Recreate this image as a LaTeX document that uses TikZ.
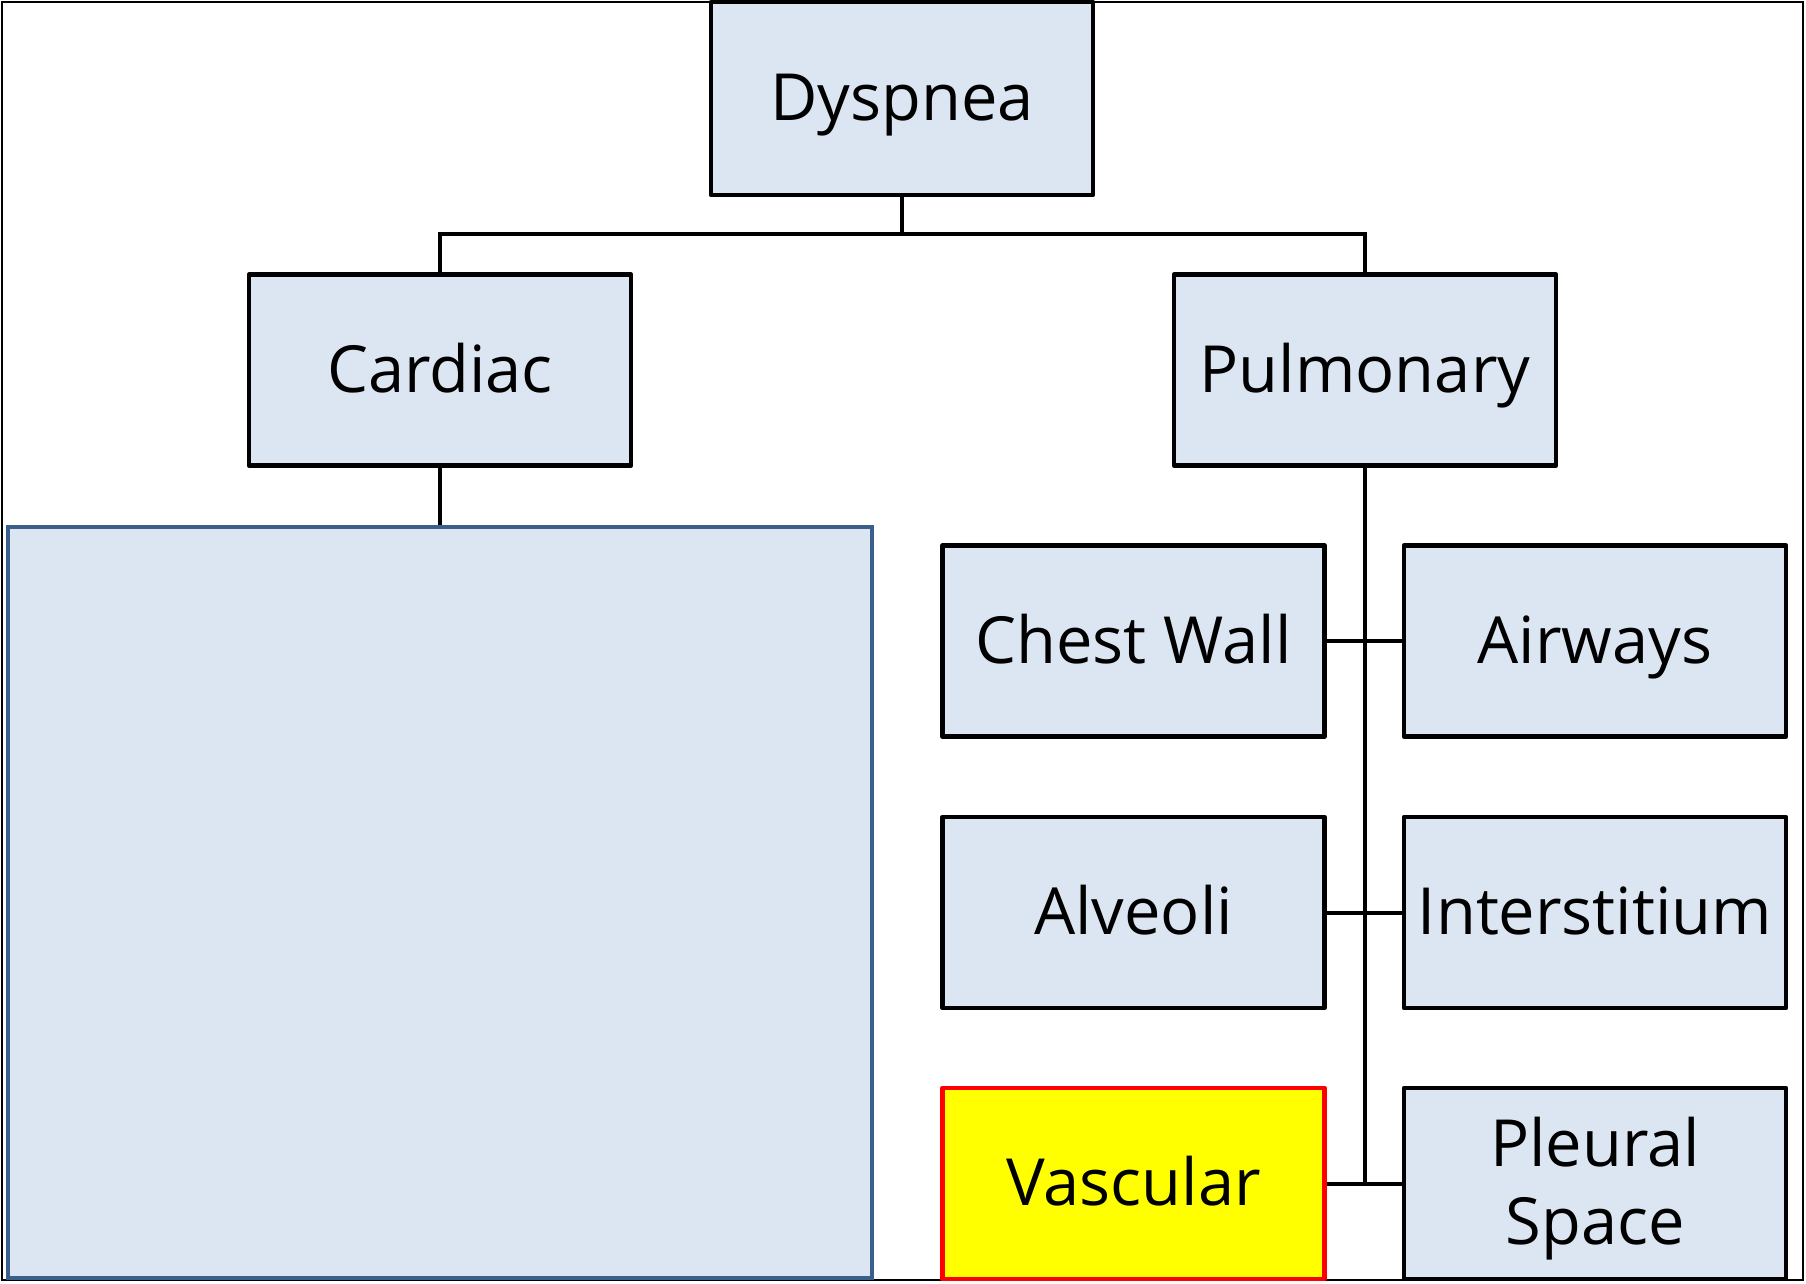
\documentclass[tikz,border=0pt]{standalone}
\usepackage{fontspec}
\setmainfont{Open Sans}
\definecolor{boxfill}{HTML}{DCE6F2}
\definecolor{bigline}{HTML}{3A5F8B}
\definecolor{hotfill}{HTML}{FFFF00}
\definecolor{hotline}{HTML}{FF0000}
\begin{document}
\begin{tikzpicture}[x=1pt,y=-1pt,
  catbox/.style={rectangle, draw=black, fill=boxfill, line width=4.5pt, line join=round,
    inner sep=0pt, minimum width=382pt, minimum height=191pt,
    text height=44pt, text depth=0pt,
    font=\fontsize{65}{78}\selectfont},
  twoline/.style={text height=44pt, text depth=78pt},
  hotbox/.style={catbox, fill=hotfill, draw=hotline},
  bigbox/.style={rectangle, draw=bigline, fill=boxfill, line width=4pt, inner sep=0pt,
    minimum width=864pt, minimum height=751pt},
  link/.style={draw=black, line width=4pt}]
\useasboundingbox (0,0) rectangle (1806,1283);
\draw[line width=1.5pt] (2,2) rectangle (1803,1280);
\node[catbox, minimum height=193pt] (dys) at (902,98.5) {Dyspnea};
\node[catbox] (card) at (440,370) {Cardiac};
\node[catbox] (pulm) at (1365,370) {Pulmonary};
\node[bigbox] (big) at (440,902.5) {};
\node[catbox] (chest) at (1133.5,641) {Chest Wall};
\node[catbox] (airw) at (1595,641) {Airways};
\node[catbox] (alv) at (1133.5,912.5) {Alveoli};
\node[catbox] (inter) at (1595,912.5) {Interstitium};
\node[hotbox] (vasc) at (1133.5,1183.5) {Vascular};
\node[catbox, twoline] (pleu) at (1595,1183.5) {\parbox[t]{370pt}{\centering Pleural\\Space}};
\coordinate (j) at (902,234);
\coordinate (tb) at (1365,1183.5);
\path[link] (dys.south) -- (j);
\path[link] (card.north) |- (j) -| (pulm.north);
\path[link] (card.south) -- (big.north);
\path[link] (pulm.south) -- (tb);
\path[link] (chest.east) -- (airw.west);
\path[link] (alv.east) -- (inter.west);
\path[link] (vasc.east) -- (pleu.west);
\end{tikzpicture}
\end{document}
